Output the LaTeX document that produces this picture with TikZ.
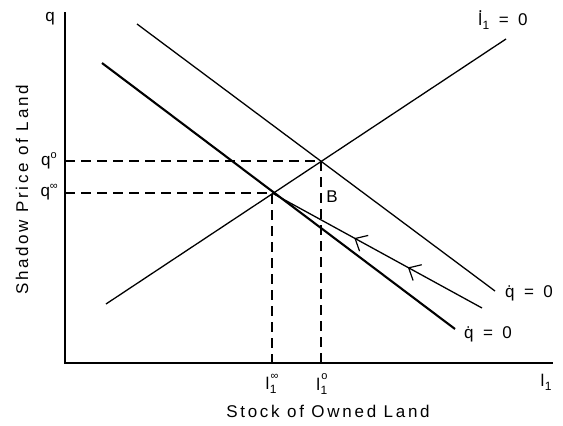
\documentclass[tikz,border=0pt]{standalone}
\usepackage{fontspec}
\setmainfont{Liberation Sans}
\newfontfamily\spaced{Liberation Sans}[LetterSpace=16]
\usetikzlibrary{arrows.meta,decorations.markings}
\newcommand{\subone}{\kern0.5pt\raisebox{-0.45ex}{\fontsize{12}{12}\selectfont 1}}
\newcommand{\lone}{l\subone}
\newcommand{\dotl}{\makebox[0pt][l]{\kern-0.02em\raisebox{0.78em}{.}}l}
\newcommand{\lonedot}{\dotl\subone}
\newcommand{\supr}[1]{\raisebox{0.75ex}{\fontsize{11}{11}\selectfont #1}}
\tikzset{
  axis/.style={line width=1.8pt},
  thin line/.style={line width=1.3pt},
  thick line/.style={line width=2.1pt},
  guide/.style={line width=1.2pt, dash pattern=on 10pt off 6pt},
  lbl/.style={inner sep=0pt, font=\fontsize{17}{17}\selectfont},
  barb/.tip={Straight Barb[length=10pt,width=18pt,line width=1.2pt]}
}
\begin{document}
\begin{tikzpicture}[x=1pt,y=-1pt]
\useasboundingbox (0,0) rectangle (563,426);
% axes
\coordinate (ytop) at (65,12);
\coordinate (orig) at (65,363);
\coordinate (xend) at (553,363);
\draw[axis] (ytop) -- (orig) -- (xend);
% key points
\coordinate (E0) at (321,161);
\coordinate (Einf) at (272,193);
\coordinate (qoax) at (65,161);
\coordinate (qiax) at (65,193);
\coordinate (l0ax) at (321,363);
\coordinate (liax) at (272,363);
% line endpoints
\coordinate (ldA) at (106,304);
\coordinate (ldB) at (506,39);
\coordinate (qtA) at (137,24);
\coordinate (qtB) at (495,291);
\coordinate (qkA) at (102,63);
\coordinate (qkB) at (455,329);
\coordinate (trB) at (482,308);
% guides
\draw[guide] (qoax) -- (E0) -- (l0ax);
\draw[guide] (qiax) -- (Einf) -- (liax);
% curves
\draw[thin line] (ldA) -- (ldB);
\draw[thin line] (qtA) -- (qtB);
\draw[thick line] (qkA) -- (qkB);
\draw[thin line, postaction={decorate}, decoration={markings,
  mark=at position 0.353 with {\arrow{barb}},
  mark=at position 0.608 with {\arrow{barb}}}]
  (trB) -- (Einf);
% labels
\node[lbl] (qlab) at (50,19) {q};
\node[lbl, rotate=90] (ylab) at (22,190) {\spaced Shadow Price of Land};
\node[lbl] (xlab) at (328,411) {\spaced Stock of Owned Land};
\node[lbl, anchor=east] (qo) at (57,161) {q\supr{o}};
\node[lbl, anchor=east] (qi) at (58,192) {q\supr{∞}};
\node[lbl] (li) at (272,384) {\lone\kern-6pt\raisebox{1.1ex}{\fontsize{11}{11}\selectfont ∞}};
\node[lbl] (lo) at (322,384) {\lone\kern-6pt\raisebox{1.2ex}{\fontsize{11}{11}\selectfont o}};
\node[lbl] (lx) at (546,382) {\lone};
\node[lbl] (B) at (332,197) {B};
\node[lbl] (ldlab) at (503,20) {\lonedot\ \ =\ \ 0};
\node[lbl] (qtlab) at (529,293) {\.q\ \ =\ \ 0};
\node[lbl] (qklab) at (488,334) {\.q\ \ =\ \ 0};
\end{tikzpicture}
\end{document}
